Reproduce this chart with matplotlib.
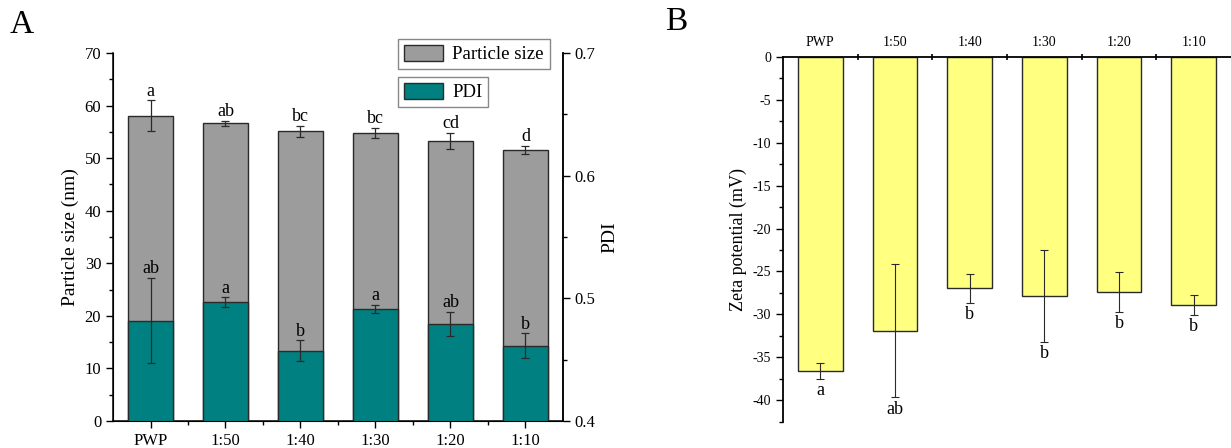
import matplotlib
matplotlib.use("Agg")
import matplotlib.pyplot as plt
from matplotlib.ticker import MultipleLocator, FixedLocator
from matplotlib.patches import Patch
import numpy as np

plt.rcParams['font.family'] = ['Liberation Serif', 'DejaVu Serif']
plt.rcParams['axes.unicode_minus'] = False

categories = ["PWP", "1:50", "1:40", "1:30", "1:20", "1:10"]
size_mean = [58.1, 56.6, 55.1, 54.85, 53.3, 51.55]
size_err = [2.9, 0.5, 1.0, 0.95, 1.55, 0.75]
size_letters = ["a", "ab", "bc", "bc", "cd", "d"]
pdi_mean = [0.4819, 0.4968, 0.4574, 0.4914, 0.4791, 0.4612]
pdi_err = [0.035, 0.004, 0.0083, 0.003, 0.0097, 0.0102]
pdi_letters = ["ab", "a", "b", "a", "ab", "b"]
zeta_mean = [-36.6, -31.9, -26.95, -27.85, -27.4, -28.9]
zeta_err = [0.9, 7.75, 1.7, 5.35, 2.3, 1.15]
zeta_letters = ["a", "ab", "b", "b", "b", "b"]

gray = "#9c9c9c"
teal = "#008080"
yellow = "#ffff80"
ecol = "#2a2a2a"

fig = plt.figure(figsize=(12.31, 4.48), dpi=100)

x = np.arange(len(categories))
bw = 0.6

# ---------------- Panel A ----------------
ax1 = fig.add_axes([0.0918, 0.0603, 0.3655, 0.8215])
ax1.bar(x, size_mean, width=bw, color=gray, edgecolor=ecol, linewidth=1.0, zorder=2)
ax1.errorbar(x, size_mean, yerr=size_err, fmt='none', ecolor=ecol, elinewidth=0.9,
             capsize=3, capthick=0.9, zorder=3)
for xi, m, e, t in zip(x, size_mean, size_err, size_letters):
    ax1.annotate(t, xy=(xi, m + e), xytext=(0, 0.5), textcoords='offset points',
                 ha='center', va='bottom', fontsize=13)
ax1.set_xlim(-0.5, 5.5)
ax1.set_ylim(0, 70)
ax1.set_xticks(x)
ax1.set_xticklabels(categories, fontsize=12)
ax1.xaxis.set_minor_locator(FixedLocator(x[:-1] + 0.5))
ax1.yaxis.set_major_locator(MultipleLocator(10))
ax1.yaxis.set_minor_locator(MultipleLocator(5))
ax1.tick_params(axis='both', which='major', direction='out', length=5, width=1, labelsize=12)
ax1.tick_params(axis='both', which='minor', direction='out', length=3, width=1)
ax1.set_ylabel("Particle size (nm)", fontsize=14)
ax1.spines['top'].set_visible(False)
for s in ['left', 'bottom', 'right']:
    ax1.spines[s].set_linewidth(1.1)

ax2 = ax1.twinx()
ax2.bar(x, pdi_mean, width=bw, color=teal, edgecolor=ecol, linewidth=1.0, zorder=2)
ax2.errorbar(x, pdi_mean, yerr=pdi_err, fmt='none', ecolor=ecol, elinewidth=0.9,
             capsize=3, capthick=0.9, zorder=3)
for xi, m, e, t in zip(x, pdi_mean, pdi_err, pdi_letters):
    ax2.annotate(t, xy=(xi, m + e), xytext=(0, 0.5), textcoords='offset points',
                 ha='center', va='bottom', fontsize=13)
ax2.set_ylim(0.4, 0.7)
ax2.yaxis.set_major_locator(MultipleLocator(0.1))
ax2.yaxis.set_minor_locator(MultipleLocator(0.05))
ax2.tick_params(axis='y', which='major', direction='out', length=5, width=1, labelsize=12)
ax2.tick_params(axis='y', which='minor', direction='out', length=3, width=1)
ax2.set_ylabel("PDI", fontsize=14)
ax2.spines['top'].set_visible(False)
ax2.spines['right'].set_linewidth(1.1)

leg_kw = dict(bbox_transform=fig.transFigure, fontsize=13.5, frameon=True,
              fancybox=False, edgecolor="#888888", framealpha=1,
              handlelength=2.1, handleheight=1.0, borderpad=0.3,
              borderaxespad=0, handletextpad=0.5, loc='upper left')
leg1 = ax2.legend(handles=[Patch(facecolor=gray, edgecolor=ecol, label="Particle size")],
                  bbox_to_anchor=(398 / 1231, 1 - 39 / 448), **leg_kw)
leg1.get_frame().set_linewidth(1.0)
ax2.add_artist(leg1)
leg2 = ax2.legend(handles=[Patch(facecolor=teal, edgecolor=ecol, label="PDI")],
                  bbox_to_anchor=(398 / 1231, 1 - 77 / 448), **leg_kw)
leg2.get_frame().set_linewidth(1.0)

fig.text(10 / 1231, 1 - 33 / 448, "A", fontsize=24, ha='left', va='baseline')

# ---------------- Panel B ----------------
ax3 = fig.add_axes([0.636, 0.059, 0.364, 0.8137])
ax3.bar(x, zeta_mean, width=bw, color=yellow, edgecolor=ecol, linewidth=1.0, zorder=2)
ax3.errorbar(x, zeta_mean, yerr=zeta_err, fmt='none', ecolor=ecol, elinewidth=0.8,
             capsize=3, capthick=0.8, zorder=3)
for xi, m, e, t in zip(x, zeta_mean, zeta_err, zeta_letters):
    ax3.annotate(t, xy=(xi, m - e), xytext=(0, -2.5), textcoords='offset points',
                 ha='center', va='top', fontsize=13)
ax3.set_xlim(-0.5, 5.5)
ax3.set_ylim(-42.5, 0)
ax3.xaxis.tick_top()
ax3.set_xticks(x)
ax3.set_xticklabels(categories, fontsize=10)
ax3.xaxis.set_minor_locator(FixedLocator(x[:-1] + 0.5))
ax3.tick_params(axis='x', which='major', direction='in', length=5, width=1.2, pad=6)
ax3.tick_params(axis='x', which='minor', direction='inout', length=4, width=1.2)
ax3.yaxis.set_major_locator(MultipleLocator(5))
ax3.yaxis.set_minor_locator(MultipleLocator(2.5))
ax3.tick_params(axis='y', which='major', direction='out', length=5, width=1, labelsize=10)
ax3.tick_params(axis='y', which='minor', direction='out', length=3, width=1)
ax3.set_ylabel("Zeta potential (mV)", fontsize=13)
ax3.spines['right'].set_visible(False)
ax3.spines['bottom'].set_visible(False)
ax3.spines['top'].set_linewidth(1.3)
ax3.spines['left'].set_linewidth(1.3)

fig.text(665 / 1231, 1 - 30 / 448, "B", fontsize=24, ha='left', va='baseline')

fig.savefig("out.png", dpi=100)
